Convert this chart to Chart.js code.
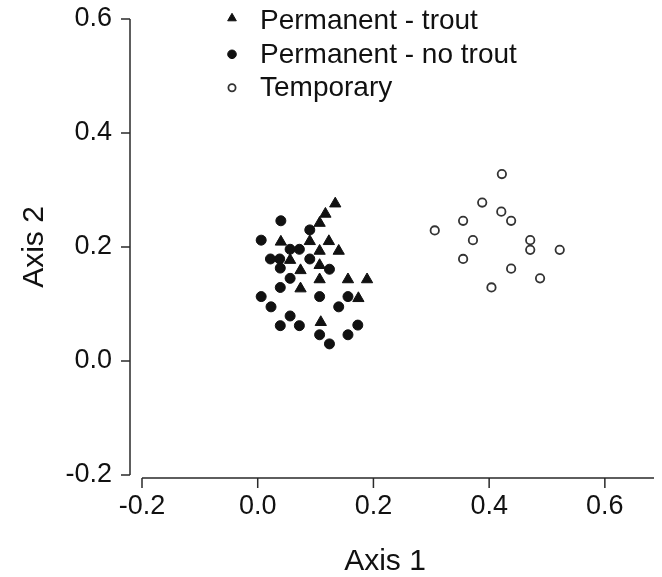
<!DOCTYPE html>
<html><head><meta charset="utf-8">
<script src="https://cdn.jsdelivr.net/npm/chart.js@4"></script>
<style>html,body{margin:0;padding:0;background:#fff}#wrap{width:662px;height:577px}</style>
</head><body><div id="wrap"><canvas id="c" width="662" height="577"></canvas></div>
<script>
const seriesNames = ['Permanent - trout', 'Permanent - no trout', 'Temporary'];
const troutX = [0.134, 0.117, 0.107, 0.040, 0.090, 0.123, 0.107, 0.140, 0.056, 0.107, 0.074, 0.107, 0.156, 0.189, 0.074, 0.174, 0.109];
const troutY = [0.276, 0.258, 0.242, 0.209, 0.210, 0.210, 0.193, 0.193, 0.177, 0.168, 0.159, 0.143, 0.143, 0.143, 0.127, 0.110, 0.068];
const noTroutX = [0.040, 0.090, 0.006, 0.056, 0.072, 0.022, 0.038, 0.090, 0.039, 0.124, 0.056, 0.039, 0.006, 0.107, 0.156, 0.023, 0.140, 0.056, 0.039, 0.072, 0.173, 0.107, 0.156, 0.124];
const noTroutY = [0.246, 0.230, 0.212, 0.196, 0.196, 0.179, 0.179, 0.179, 0.163, 0.161, 0.145, 0.129, 0.113, 0.113, 0.113, 0.095, 0.095, 0.079, 0.062, 0.062, 0.063, 0.046, 0.046, 0.030];
const tempX = [0.422, 0.388, 0.421, 0.438, 0.355, 0.306, 0.372, 0.471, 0.471, 0.522, 0.355, 0.438, 0.488, 0.404];
const tempY = [0.328, 0.278, 0.262, 0.246, 0.246, 0.229, 0.212, 0.212, 0.195, 0.195, 0.179, 0.162, 0.145, 0.129];
const xTicks = [-0.2, 0.0, 0.2, 0.4, 0.6];
const yTicks = [-0.2, 0.0, 0.2, 0.4, 0.6];
const xTitle = 'Axis 1';
const yTitle = 'Axis 2';
const xAxisEnd = 0.685;

const FONT = '"Liberation Sans", Arial, Helvetica, sans-serif';
const INK = '#111';
const AXIS = '#2a2a2a';

function pts(xs, ys) { return xs.map((v, i) => ({x: v, y: ys[i]})); }

const axesPlugin = {
  id: 'detachedAxes',
  afterDraw(chart) {
    const {ctx, chartArea, scales: {x, y}} = chart;
    ctx.save();
    ctx.strokeStyle = AXIS;
    ctx.lineWidth = 1.5;
    ctx.beginPath();
    const ax = chartArea.left - 12;
    ctx.moveTo(ax, y.getPixelForValue(yTicks[yTicks.length - 1]));
    ctx.lineTo(ax, y.getPixelForValue(yTicks[0]));
    yTicks.forEach(v => { const p = y.getPixelForValue(v); ctx.moveTo(ax, p); ctx.lineTo(ax - 9, p); });
    const ay = chartArea.bottom + 3;
    ctx.moveTo(x.getPixelForValue(xTicks[0]), ay);
    ctx.lineTo(x.getPixelForValue(xAxisEnd), ay);
    xTicks.forEach(v => { const p = x.getPixelForValue(v); ctx.moveTo(p, ay); ctx.lineTo(p, ay + 10); });
    ctx.stroke();
    ctx.restore();
  }
};

const legendPlugin = {
  id: 'innerLegend',
  afterDraw(chart) {
    const ctx = chart.ctx;
    const mx = 232, tx = 260, top = 21.3, step = 33.5;
    ctx.save();
    ctx.font = '28px ' + FONT;
    ctx.textBaseline = 'middle';
    ctx.textAlign = 'left';
    chart.data.datasets.forEach((ds, i) => {
      const cy = top + i * step;
      ctx.fillStyle = ds.pointBackgroundColor;
      ctx.strokeStyle = ds.pointBorderColor;
      ctx.lineWidth = ds.pointBorderWidth;
      ctx.beginPath();
      if (ds.pointStyle === 'triangle') {
        const r = 5, c = cy - 3;
        ctx.moveTo(mx, c - r);
        ctx.lineTo(mx + r * Math.sin(2 * Math.PI / 3), c - r * Math.cos(2 * Math.PI / 3));
        ctx.lineTo(mx + r * Math.sin(4 * Math.PI / 3), c - r * Math.cos(4 * Math.PI / 3));
        ctx.closePath();
      } else {
        const r = ds.pointBackgroundColor === '#ffffff' ? 3.6 : 4.3;
        ctx.arc(mx, cy - 0.5, r, 0, Math.PI * 2);
      }
      ctx.fill();
      ctx.stroke();
      ctx.fillStyle = INK;
      ctx.fillText(ds.label, tx, cy);
    });
    ctx.restore();
  }
};

new Chart(document.getElementById('c'), {
  type: 'scatter',
  data: {
    datasets: [
      {label: seriesNames[0], data: pts(troutX, troutY), pointStyle: 'triangle', pointRadius: 6.5, pointHoverRadius: 6.5,
       pointBackgroundColor: '#111111', pointBorderColor: '#111111', pointBorderWidth: 1},
      {label: seriesNames[1], data: pts(noTroutX, noTroutY), pointStyle: 'circle', pointRadius: 5, pointHoverRadius: 5,
       pointBackgroundColor: '#111111', pointBorderColor: '#111111', pointBorderWidth: 1},
      {label: seriesNames[2], data: pts(tempX, tempY), pointStyle: 'circle', pointRadius: 4.2, pointHoverRadius: 4.2,
       pointBackgroundColor: '#ffffff', pointBorderColor: '#333333', pointBorderWidth: 1.8}
    ]
  },
  options: {
    responsive: false,
    animation: false,
    devicePixelRatio: 1,
    layout: {padding: {left: 0, top: 19, right: 34, bottom: 0}},
    plugins: {legend: {display: false}, tooltip: {enabled: false}},
    scales: {
      x: {
        type: 'linear', min: -0.2, max: 0.64,
        afterBuildTicks: s => { s.ticks = xTicks.map(v => ({value: v})); },
        afterFit: s => { s.height = 102; s.paddingLeft = 0; s.paddingRight = 0; },
        grid: {display: false, drawTicks: true, tickLength: 15},
        border: {display: false},
        ticks: {padding: 0, color: INK, font: {family: FONT, size: 27}, callback: v => Number(v).toFixed(1)},
        title: {display: true, text: xTitle, color: INK, font: {family: FONT, size: 30, lineHeight: 1}, padding: {top: 0, bottom: 0}}
      },
      y: {
        type: 'linear', min: -0.2, max: 0.6,
        afterBuildTicks: s => { s.ticks = yTicks.map(v => ({value: v})); },
        afterFit: s => { s.width = 142; s.paddingTop = 0; s.paddingBottom = 0; },
        grid: {display: false, drawTicks: true, tickLength: 30},
        border: {display: false},
        ticks: {padding: 0, color: INK, font: {family: FONT, size: 27}, callback: v => Number(v).toFixed(1)},
        title: {display: true, text: yTitle, color: INK, font: {family: FONT, size: 30, lineHeight: 1}, padding: {top: 20, bottom: 0}}
      }
    }
  },
  plugins: [axesPlugin, legendPlugin]
});
</script>
</body></html>
